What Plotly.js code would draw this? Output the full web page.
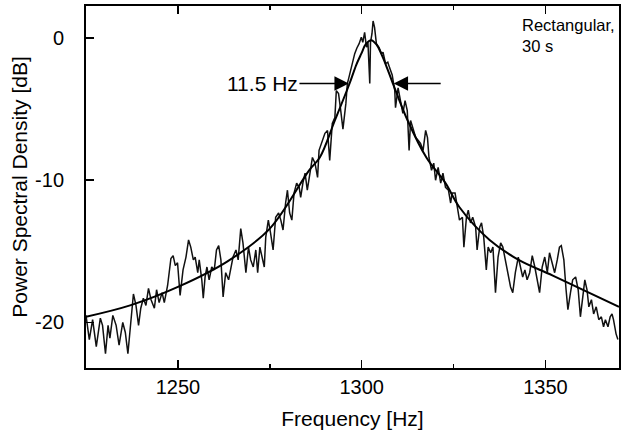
<!DOCTYPE html>
<html><head><meta charset="utf-8">
<script src="https://cdn.plot.ly/plotly-3.0.1.min.js"></script>
<style>html,body{margin:0;padding:0;background:#fff}#chart{width:629px;height:437px}</style>
</head><body><div id="chart"></div>
<script>
const measFreq = [1225.0,1225.9,1226.8,1227.8,1228.9,1229.5,1230.3,1231.0,1231.5,1232.3,1233.2,1234.0,1235.0,1235.7,1236.4,1237.2,1237.9,1238.6,1239.3,1239.9,1240.6,1241.3,1242.0,1242.7,1243.6,1244.2,1244.9,1245.7,1246.3,1247.2,1248.1,1248.7,1249.3,1249.9,1250.6,1251.4,1252.2,1252.9,1253.5,1254.2,1254.7,1255.4,1255.8,1256.5,1256.9,1257.4,1257.9,1258.5,1259.2,1259.9,1260.5,1261.1,1261.7,1262.3,1263.0,1263.8,1264.4,1265.0,1265.8,1266.4,1267.1,1267.7,1268.5,1269.2,1269.8,1270.5,1271.2,1271.7,1272.3,1272.8,1273.5,1273.9,1274.6,1275.2,1275.9,1276.6,1277.4,1278.0,1278.6,1279.3,1279.8,1280.4,1281.0,1281.6,1282.3,1283.0,1283.4,1284.0,1284.6,1285.2,1285.9,1286.6,1287.3,1288.0,1288.4,1289.3,1290.0,1290.7,1291.3,1292.0,1292.7,1293.1,1293.7,1294.3,1294.9,1295.7,1296.1,1296.5,1297.0,1297.5,1298.1,1298.7,1299.3,1299.9,1300.3,1300.8,1301.3,1301.7,1302.2,1302.4,1302.8,1303.1,1303.5,1304.0,1304.7,1305.4,1305.8,1306.5,1307.1,1307.6,1308.3,1309.0,1309.2,1309.9,1310.6,1311.2,1311.8,1312.4,1312.9,1313.3,1313.9,1314.7,1315.4,1316.0,1316.7,1317.4,1317.9,1318.3,1319.0,1319.6,1320.1,1320.8,1321.5,1322.1,1322.8,1323.6,1324.2,1324.6,1325.4,1326.0,1326.6,1327.4,1327.8,1328.5,1329.0,1329.6,1330.2,1331.0,1331.4,1332.1,1332.6,1333.2,1333.9,1334.4,1335.1,1335.7,1336.4,1337.1,1337.8,1338.4,1339.1,1339.9,1340.5,1341.1,1341.8,1342.6,1343.2,1343.8,1344.4,1345.0,1345.7,1346.4,1347.1,1347.7,1348.4,1349.1,1349.8,1350.5,1351.1,1351.8,1352.5,1353.2,1353.8,1354.3,1355.0,1355.6,1356.1,1356.8,1357.4,1358.2,1358.9,1359.5,1360.0,1360.7,1361.3,1361.8,1362.5,1363.1,1363.8,1364.5,1365.2,1365.8,1366.3,1367.0,1367.6,1368.1,1368.5,1369.2,1369.7];
const measPsd = [-19.5,-21.2,-19.8,-21.7,-19.7,-20.2,-22.2,-20.2,-21.1,-19.5,-20.2,-21.6,-20.0,-20.7,-22.2,-20.2,-18.0,-18.8,-20.2,-19.0,-18.3,-18.8,-17.6,-18.4,-19.0,-17.7,-18.6,-17.9,-18.6,-17.4,-15.5,-15.3,-16.0,-15.8,-18.1,-16.3,-15.4,-14.2,-14.7,-15.6,-15.4,-16.5,-15.6,-17.0,-18.3,-16.8,-16.1,-17.0,-16.1,-16.3,-14.9,-14.6,-15.6,-18.2,-16.5,-17.0,-16.3,-15.4,-14.9,-15.6,-13.4,-14.4,-16.5,-14.7,-15.6,-16.1,-14.9,-16.5,-14.7,-15.4,-16.1,-14.0,-12.8,-13.7,-14.9,-12.6,-12.3,-12.8,-13.5,-11.6,-10.7,-12.3,-12.8,-10.9,-10.2,-10.5,-11.2,-10.2,-9.5,-10.7,-9.5,-8.4,-8.8,-9.8,-7.9,-7.2,-6.7,-6.5,-8.6,-6.0,-5.6,-3.7,-3.9,-5.1,-6.4,-4.6,-3.2,-2.8,-2.3,-1.6,-1.1,-0.7,-0.4,0.05,-0.3,0.4,-0.65,-0.3,-3.2,-0.3,0.3,1.2,0.75,-0.4,-0.65,-1.1,-1.0,-1.8,-1.7,-2.1,-2.6,-3.7,-4.9,-3.5,-4.6,-5.3,-4.4,-5.1,-7.9,-5.8,-6.3,-7.0,-7.2,-7.4,-7.9,-6.5,-7.0,-8.4,-9.3,-8.8,-10.0,-9.1,-10.2,-9.5,-10.5,-10.7,-11.6,-10.9,-10.9,-11.9,-12.8,-12.6,-14.7,-12.6,-12.1,-13.0,-12.6,-13.3,-14.9,-13.3,-13.0,-14.0,-16.3,-14.7,-15.1,-14.7,-17.9,-15.4,-14.4,-14.7,-15.6,-16.5,-17.5,-17.9,-16.5,-15.4,-16.1,-16.8,-16.3,-17.0,-16.5,-15.3,-16.1,-17.0,-17.9,-16.1,-15.4,-16.5,-15.1,-15.8,-16.5,-15.6,-14.7,-14.6,-15.6,-17.7,-19.1,-17.9,-17.0,-16.8,-17.7,-19.6,-18.4,-17.0,-17.7,-18.9,-18.4,-19.4,-18.9,-19.8,-19.6,-20.3,-19.8,-20.3,-19.6,-19.4,-19.8,-20.8,-21.2];

// Fitted curve
const fitFreq = [1225,1237,1250,1263.5,1275,1285.7,1288.6,1292.7,1296.7,1298.5,1299.9,1301.2,1302.6,1304.0,1305.3,1306.6,1308.5,1312.5,1317.6,1322.8,1326.6,1334.8,1342.7,1352,1370];
const fitPsd  = [-19.6,-18.8,-17.5,-15.7,-13.4,-9.3,-8.4,-5.8,-3.2,-1.9,-1.1,-0.4,-0.15,-0.45,-1.1,-1.9,-3.2,-5.8,-8.4,-10.2,-11.9,-14.2,-15.6,-16.7,-18.9];

// Axis ticks
const xTickVals = [1250, 1300, 1350];
const xTickText = ['1250', '1300', '1350'];
const yTickVals = [0, -10, -20];
const yTickText = ['0', '-10', '-20'];

// Labels
const fwhmLabel = '11.5 Hz';
const windowLabel = 'Rectangular,<br>30 s';
const xTitle = 'Frequency [Hz]';
const yTitle = 'Power Spectral Density [dB]';

const FONT = 'Liberation Sans, Arial, sans-serif';

const traces = [
  {x: measFreq, y: measPsd, type: 'scatter', mode: 'lines',
   line: {color: '#111', width: 1.5}, hoverinfo: 'skip'},
  {x: fitFreq, y: fitPsd, type: 'scatter', mode: 'lines',
   line: {color: '#000', width: 2, shape: 'spline', smoothing: 1}, hoverinfo: 'skip'}
];

const layout = {
  width: 629, height: 437,
  margin: {l: 86, r: 10, t: 6, b: 69},
  paper_bgcolor: '#fff', plot_bgcolor: '#fff',
  showlegend: false,
  font: {family: FONT, color: '#000'},
  xaxis: {
    range: [1225, 1370],
    tickvals: xTickVals, ticktext: xTickText,
    ticks: 'inside', ticklen: 8, tickwidth: 1.5, tickcolor: '#000',
    minor: {dtick: 25, tick0: 1225, ticks: 'inside', ticklen: 4, tickwidth: 1.5, tickcolor: '#000', showgrid: false},
    showline: true, linecolor: '#000', linewidth: 2, mirror: 'ticks',
    showgrid: false, zeroline: false,
    tickfont: {size: 20, family: FONT},
    ticklabelstandoff: 0,
    title: {text: xTitle, font: {size: 21, family: FONT}, standoff: 14}
  },
  yaxis: {
    range: [-23.2, 2.25],
    tickvals: yTickVals, ticktext: yTickText,
    ticks: 'inside', ticklen: 8, tickwidth: 1.5, tickcolor: '#000',
    showline: true, linecolor: '#000', linewidth: 2, mirror: true,
    showgrid: false, zeroline: false,
    tickfont: {size: 20, family: FONT},
    ticklabelstandoff: 16,
    title: {text: yTitle, font: {size: 21, family: FONT}, standoff: 2}
  },
  annotations: [
    {x: 1296.5, y: -3.2, xref: 'x', yref: 'y', ax: 1273, ay: -3.2, axref: 'x', ayref: 'y',
     text: fwhmLabel, font: {size: 21, family: FONT, color: '#000'},
     showarrow: true, arrowhead: 2, arrowsize: 1.8, arrowwidth: 1.6, arrowcolor: '#000', standoff: 0},
    {x: 1308.7, y: -3.2, xref: 'x', yref: 'y', ax: 1321.9, ay: -3.2, axref: 'x', ayref: 'y',
     text: '', showarrow: true, arrowhead: 2, arrowsize: 1.8, arrowwidth: 1.6, arrowcolor: '#000', standoff: 0},
    {x: 1343.2, y: 1.7, xref: 'x', yref: 'y', xanchor: 'left', yanchor: 'top', align: 'left',
     text: windowLabel, showarrow: false, font: {size: 16.5, family: FONT, color: '#000'}}
  ]
};

Plotly.newPlot('chart', traces, layout, {staticPlot: true, displayModeBar: false});
</script>
</body></html>
